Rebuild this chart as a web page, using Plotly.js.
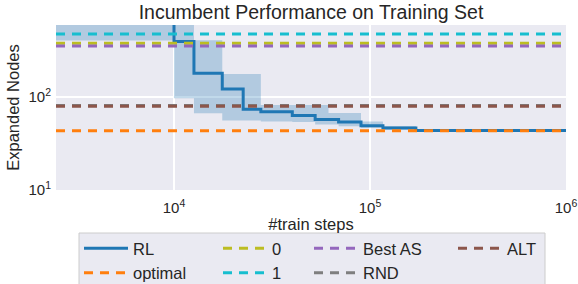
<!DOCTYPE html>
<html>
<head>
<meta charset="utf-8">
<script src="https://cdn.plot.ly/plotly-3.0.1.min.js"></script>
<style>html,body{margin:0;padding:0;background:#fff;}#chart{width:578px;height:284px;}</style>
</head>
<body>
<div id="chart"></div>
<script>
// ---- data ----
const xStart = 2500;
const xEnd = 1000000;
// RL incumbent mean (step function, value holds until next step)
const rlSteps = [2500, 10000, 12640, 17630, 22540, 27740, 40140, 52500, 69150, 89970, 116400, 171400, 1000000];
const rlMean  = [1200, 398, 181.7, 122.9, 74.2, 69.9, 63.6, 57.6, 54.2, 49.4, 46.7, 43.8, 43.8];
// RL spread band
const bandSteps = [2500, 10000, 12640, 17630, 27740, 40140, 52500, 61400, 69150, 89970, 116400, 171400, 1000000];
const bandLow   = [408, 97.5, 67.2, 56, 54.6, 54.2, 50.7, 50.7, 48.6, 47, 45, 43.3, 43.3];
const bandHigh  = [2000, 2000, 412, 178, 82.6, 82.6, 82.6, 67.7, 67.7, 54.6, 49, 44.4, 44.4];
// constant baselines
const baselineNames  = ['optimal', '0', '1', 'Best AS', 'RND', 'ALT'];
const baselineValues = [43.6, 382, 481, 357, 81.5, 80];
const baselineColors = ['#ff7f0e', '#bcbd22', '#17becf', '#9467bd', '#7f7f7f', '#8c564b'];
const baselineLegend = ['legend', 'legend2', 'legend2', 'legend3', 'legend3', 'legend4'];
const baselineRank   = [2, 3, 4, 5, 6, 7];
// tick labels
const xTickVals = [1e4, 1e5, 1e6];
const xTickText = ['10<sup>4</sup>', '10<sup>5</sup>', '10<sup>6</sup>'];
const yTickVals = [10, 100];
const yTickText = ['10<sup>1</sup>', '10<sup>2</sup>'];

const FONT = 'Liberation Sans, Arial, sans-serif';
const TXT = '#262626';

const traces = [];
traces.push({
  x: bandSteps, y: bandLow, type: 'scatter', mode: 'lines',
  line: {width: 0, shape: 'hv', color: 'rgba(31,119,180,0)'},
  showlegend: false, hoverinfo: 'skip'
});
traces.push({
  x: bandSteps, y: bandHigh, type: 'scatter', mode: 'lines',
  line: {width: 0, shape: 'hv', color: 'rgba(31,119,180,0)'},
  fill: 'tonexty', fillcolor: 'rgba(31,119,180,0.28)',
  showlegend: false, hoverinfo: 'skip'
});
traces.push({
  x: rlSteps, y: rlMean, type: 'scatter', mode: 'lines', name: 'RL',
  line: {color: '#1f77b4', width: 3, shape: 'hv'},
  legend: 'legend', legendrank: 1, legendgroup: 'g_RL'
});
baselineNames.forEach((n, i) => {
  traces.push({
    x: [xStart, xEnd], y: [baselineValues[i], baselineValues[i]],
    type: 'scatter', mode: 'lines', name: n,
    line: {color: baselineColors[i], width: 3, dash: '9px,7px'},
    legend: baselineLegend[i], legendrank: baselineRank[i], legendgroup: 'g_' + n
  });
});

function px2paperX(px) { return (px - 56) / 510; }
function px2paperY(py) { return (190 - py) / 165; }

function leg(px) {
  return {
    x: px2paperX(px), y: px2paperY(231), xref: 'paper', yref: 'paper',
    xanchor: 'left', yanchor: 'top', orientation: 'v', traceorder: 'normal',
    bgcolor: 'rgba(0,0,0,0)', borderwidth: 0, itemwidth: 44,
    tracegroupgap: 2,
    font: {family: FONT, size: 16.5, color: TXT}
  };
}

const layout = {
  width: 578, height: 284,
  margin: {l: 56, r: 12, t: 25, b: 94, autoexpand: false},
  paper_bgcolor: '#ffffff', plot_bgcolor: '#EAEAF2',
  font: {family: FONT, color: TXT},
  title: {
    text: 'Incumbent Performance on Training Set',
    font: {family: FONT, size: 19.5, color: TXT},
    x: 0.5, xref: 'paper', xanchor: 'center',
    y: 1 - 5/284, yref: 'container', yanchor: 'top'
  },
  xaxis: {
    type: 'log', range: [Math.log10(xStart), Math.log10(xEnd)],
    tickvals: xTickVals, ticktext: xTickText, ticklabeloverflow: 'allow',
    ticks: '', ticklabelstandoff: 7,
    tickfont: {family: FONT, size: 15, color: TXT},
    showgrid: true, gridcolor: '#ffffff', gridwidth: 2,
    zeroline: false, showline: false,
    title: {text: '#train steps', font: {family: FONT, size: 16.5, color: TXT}, standoff: 3}
  },
  yaxis: {
    type: 'log', range: [1, Math.log10(600)],
    tickvals: yTickVals, ticktext: yTickText, ticklabeloverflow: 'allow',
    ticks: '', ticklabelstandoff: 4,
    tickfont: {family: FONT, size: 15, color: TXT},
    showgrid: true, gridcolor: '#ffffff', gridwidth: 2,
    zeroline: false, showline: false,
    title: {text: 'Expanded Nodes', font: {family: FONT, size: 16.5, color: TXT}, standoff: 4}
  },
  legend: leg(79),
  legend2: leg(218),
  legend3: leg(309),
  legend4: leg(453),
  shapes: [{
    type: 'rect', xref: 'paper', yref: 'paper',
    x0: px2paperX(79), x1: px2paperX(545), y0: px2paperY(233), y1: px2paperY(300),
    fillcolor: '#EAEAF2', line: {color: '#cccccc', width: 1}, layer: 'below'
  }],
  showlegend: true
};

Plotly.newPlot('chart', traces, layout, {displayModeBar: false, staticPlot: true});
</script>
</body>
</html>
